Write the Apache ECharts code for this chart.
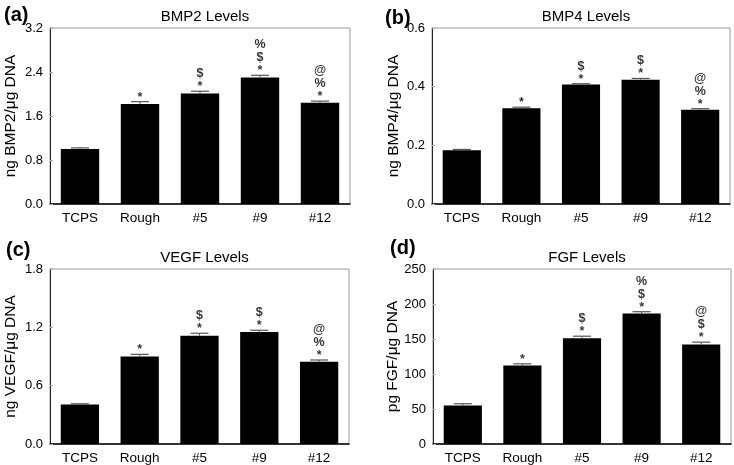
<!DOCTYPE html>
<html>
<head>
<meta charset="utf-8">
<script src="https://cdn.jsdelivr.net/npm/echarts@6/dist/echarts.min.js"></script>
<style>
html,body{margin:0;padding:0;background:#fff;}
#chart{width:734px;height:465px;}
</style>
</head>
<body>
<div id="chart"></div>
<script>
var categories = ['TCPS', 'Rough', '#5', '#9', '#12'];

var bmp2 = [1.00, 1.82, 2.01, 2.30, 1.84];
var bmp2Err = [0.02, 0.04, 0.04, 0.04, 0.03];
var bmp2Sig = ['', '*', '$\n*', '%\n$\n*', '@\n%\n*'];

var bmp4 = [0.183, 0.326, 0.407, 0.424, 0.321];
var bmp4Err = [0.003, 0.004, 0.003, 0.004, 0.004];
var bmp4Sig = ['', '*', '$\n*', '$\n*', '@\n%\n*'];

var vegf = [0.406, 0.90, 1.114, 1.152, 0.846];
var vegfErr = [0.008, 0.022, 0.025, 0.018, 0.018];
var vegfSig = ['', '*', '$\n*', '$\n*', '@\n%\n*'];

var fgf = [55, 112, 151, 186.5, 142];
var fgfErr = [2.5, 2.5, 3, 2.5, 3.5];
var fgfSig = ['', '*', '$\n*', '%\n$\n*', '@\n$\n*'];

var panels = [
  {label: '(a)', title: 'BMP2 Levels', yName: 'ng BMP2/\u03bcg DNA', vals: bmp2, errs: bmp2Err, sig: bmp2Sig,
   max: 3.2, interval: 0.8, dec: 1},
  {label: '(b)', title: 'BMP4 Levels', yName: 'ng BMP4/\u03bcg DNA', vals: bmp4, errs: bmp4Err, sig: bmp4Sig,
   max: 0.6, interval: 0.2, dec: 1},
  {label: '(c)', title: 'VEGF Levels', yName: 'ng VEGF/\u03bcg DNA', vals: vegf, errs: vegfErr, sig: vegfSig,
   max: 1.8, interval: 0.6, dec: 1},
  {label: '(d)', title: 'FGF Levels', yName: 'pg FGF/\u03bcg DNA', vals: fgf, errs: fgfErr, sig: fgfSig,
   max: 250, interval: 50, dec: 0}
];

var grids = [
  {left: 50, top: 28, width: 300, height: 176},
  {left: 432, top: 28, width: 298, height: 176},
  {left: 50, top: 269, width: 299, height: 176},
  {left: 433, top: 269, width: 298, height: 175}
];
var labelPos = [
  {left: -1, top: 0},
  {left: 380, top: 3},
  {left: 1, top: 235},
  {left: 385, top: 233}
];

var FONT = 'Liberation Sans, Arial, sans-serif';

var option = {
  backgroundColor: '#fff',
  animation: false,
  title: [],
  grid: [],
  xAxis: [],
  yAxis: [],
  series: []
};

panels.forEach(function (p, i) {
  var g = grids[i];
  option.grid.push({left: g.left, top: g.top, width: g.width, height: g.height,
    show: true, borderColor: '#9a9a9a', borderWidth: 1, backgroundColor: 'transparent'});
  option.title.push({
    text: p.title, left: g.left + g.width / 2, top: g.top - 24, textAlign: 'center',
    textStyle: {fontFamily: FONT, fontSize: 15, fontWeight: 'normal', color: '#000'}
  });
  option.title.push({
    text: p.label, left: labelPos[i].left, top: labelPos[i].top,
    textStyle: {fontFamily: FONT, fontSize: 20, fontWeight: 'bold', color: '#000'}
  });
  option.xAxis.push({
    type: 'category', gridIndex: i, data: categories,
    axisLine: {show: true, lineStyle: {color: '#000', width: 1.5}},
    axisTick: {show: false},
    axisLabel: {fontFamily: FONT, fontSize: 13.5, color: '#000', margin: 7},
    splitLine: {show: false}
  });
  option.yAxis.push({
    type: 'value', gridIndex: i, min: 0, max: p.max, interval: p.interval,
    name: p.yName, nameLocation: 'middle', nameGap: i % 2 === 0 ? 31 : 30,
    nameTextStyle: {fontFamily: FONT, fontSize: 15.5, color: '#000'},
    axisLine: {show: true, lineStyle: {color: '#222', width: 1}},
    axisTick: {show: true, inside: true, length: 3, lineStyle: {color: '#aaa'}},
    axisLabel: {fontFamily: FONT, fontSize: 13, color: '#000', margin: 7,
      formatter: function (v) { return v.toFixed(p.dec); }},
    splitLine: {show: false}
  });
  option.series.push({
    type: 'bar', xAxisIndex: i, yAxisIndex: i, data: p.vals, barWidth: '64%',
    itemStyle: {color: '#000'}, z: 2
  });
  option.series.push({
    type: 'custom', xAxisIndex: i, yAxisIndex: i, z: 3,
    data: p.vals.map(function (v, k) { return [k, v, v + p.errs[k]]; }),
    renderItem: function (params, api) {
      var lo = api.coord([api.value(0), api.value(1)]);
      var hi = api.coord([api.value(0), api.value(2)]);
      var hw = 9;
      return {
        type: 'group',
        children: [
          {type: 'line', shape: {x1: lo[0], y1: lo[1], x2: hi[0], y2: hi[1]},
           style: {stroke: '#555', lineWidth: 1}},
          {type: 'line', shape: {x1: hi[0] - hw, y1: hi[1], x2: hi[0] + hw, y2: hi[1]},
           style: {stroke: '#555', lineWidth: 1.2}}
        ]
      };
    }
  });
  option.series.push({
    type: 'scatter', xAxisIndex: i, yAxisIndex: i, z: 4, symbolSize: 0,
    data: p.vals.map(function (v, k) { return [k, v + p.errs[k]]; }),
    label: {
      show: true, position: 'top', distance: -2,
      fontFamily: FONT, fontSize: 12.5, fontWeight: 'bold', lineHeight: 13, color: '#000',
      align: 'center',
      formatter: function (d) { return p.sig[d.dataIndex]; }
    },
    silent: true
  });
});

var chart = echarts.init(document.getElementById('chart'), null, {renderer: 'canvas'});
chart.setOption(option);
</script>
</body>
</html>
